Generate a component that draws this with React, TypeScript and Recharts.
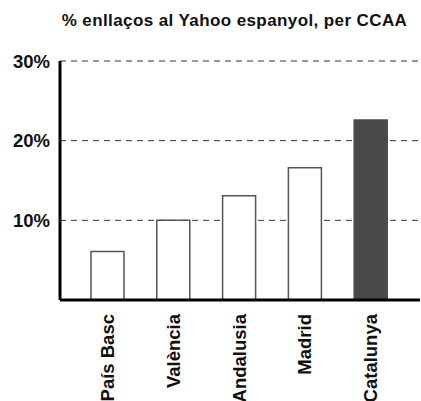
import React from 'react';
import { BarChart, Bar, XAxis, YAxis, CartesianGrid, Cell } from 'recharts';

const categories = ['País Basc', 'València', 'Andalusia', 'Madrid', 'Catalunya'];
const values = [6.1, 10.0, 13.1, 16.6, 22.6];
const yTicks = [10, 20, 30];
const title = '% enllaços al Yahoo espanyol, per CCAA';
const highlight = 'Catalunya';

const data = categories.map((c, i) => ({ name: c, value: values[i] }));

const FONT = '"Liberation Sans", Arial, sans-serif';

const XTick = (props: any) => {
  const { x, y, payload } = props;
  return (
    <text
      x={0}
      y={0}
      transform={`translate(${x + 6},${y + 6}) rotate(-90)`}
      textAnchor="end"
      fontFamily={FONT}
      fontWeight="bold"
      fontSize={18.5}
      fill="#111"
    >
      {payload.value}
    </text>
  );
};

const YTick = (props: any) => {
  const { x, y, payload } = props;
  return (
    <text
      x={x - 2}
      y={y + 6.5}
      textAnchor="end"
      fontFamily={FONT}
      fontWeight="bold"
      fontSize={18.5}
      fill="#111"
    >
      {payload.value + '%'}
    </text>
  );
};

export default function App() {
  return (
    <div style={{ position: 'absolute', left: 0, top: 0, width: 421, height: 401, background: '#fff', overflow: 'hidden' }}>
      <div
        style={{
          position: 'absolute',
          left: 0,
          top: 11,
          width: 469,
          textAlign: 'center',
          fontFamily: FONT,
          fontWeight: 'bold',
          fontSize: 17,
          letterSpacing: 0.4,
          color: '#111',
          whiteSpace: 'nowrap',
        }}
      >
        {title}
      </div>
      <BarChart
        width={421}
        height={401}
        data={data}
        margin={{ top: 61, right: 1, left: 0, bottom: 0 }}
        barSize={33}
      >
        <CartesianGrid
          horizontal={true}
          vertical={false}
          stroke="#333"
          strokeDasharray="6 5"
          strokeWidth={1}
        />
        <XAxis
          dataKey="name"
          height={101}
          padding={{ left: 15, right: 16 }}
          axisLine={{ stroke: '#000', strokeWidth: 3 }}
          tickLine={false}
          tick={<XTick />}
          interval={0}
        />
        <YAxis
          width={60}
          domain={[0, 30]}
          ticks={yTicks}
          axisLine={{ stroke: '#000', strokeWidth: 3 }}
          tickLine={false}
          tick={<YTick />}
        />
        <Bar dataKey="value" isAnimationActive={false} stroke="#555" strokeWidth={1.5}>
          {data.map((d) => (
            <Cell
              key={d.name}
              fill={d.name === highlight ? '#4a4a4a' : '#fff'}
              stroke={d.name === highlight ? '#4a4a4a' : '#555'}
            />
          ))}
        </Bar>
      </BarChart>
    </div>
  );
}
